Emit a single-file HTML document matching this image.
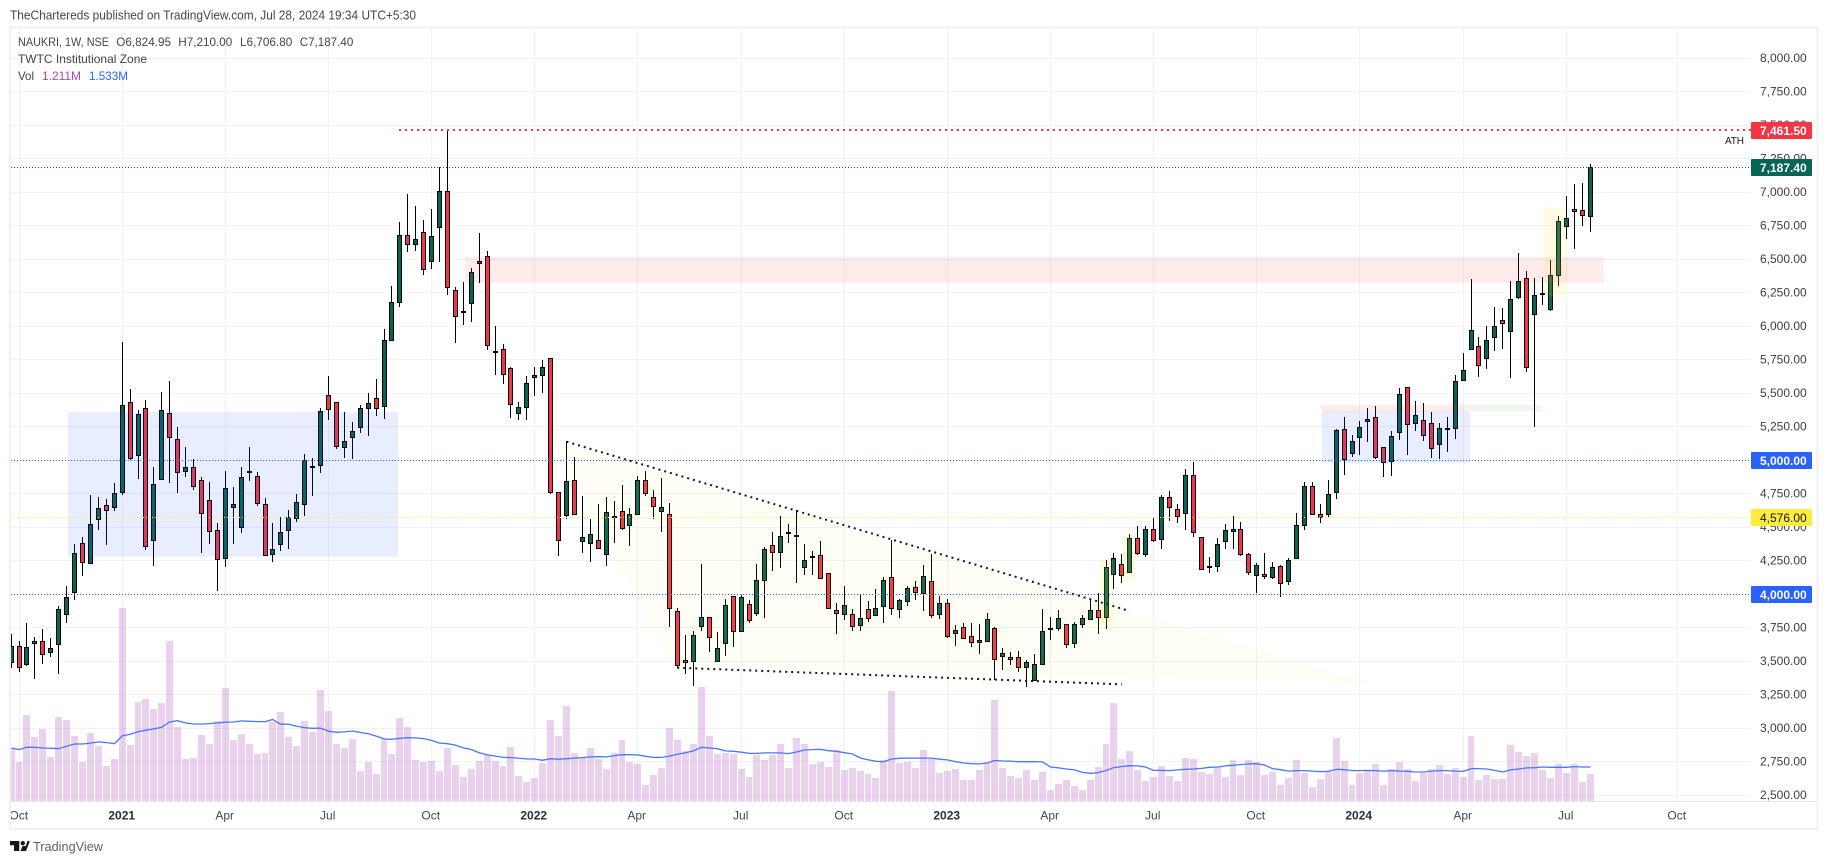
<!DOCTYPE html>
<html lang="en">
<head>
<meta charset="utf-8">
<title>NAUKRI 1W chart</title>
<style>
html,body{margin:0;padding:0;background:#fff;width:1827px;height:864px;overflow:hidden}
svg{display:block;font-family:"Liberation Sans",sans-serif}
</style>
</head>
<body>
<svg id="chart" width="1827" height="864" viewBox="0 0 1827 864" xmlns="http://www.w3.org/2000/svg">
  <rect x="0" y="0" width="1827" height="864" fill="#ffffff"/>
  <clipPath id="pane"><rect x="10.5" y="28" width="1740.5" height="773.5"/></clipPath>
  <g id="gridV"></g>
  <g id="gridH"></g>
  <g id="vol" clip-path="url(#pane)"></g>
  <path id="ma" fill="none" stroke="#4a77f7" stroke-width="1.3" clip-path="url(#pane)"/>
  <g id="candles" clip-path="url(#pane)"></g>
  <g id="zones"></g>
  <g id="hlines"></g>
  <g id="axisY"></g>
  <g id="axisX"></g>
  <rect x="10" y="27.5" width="1807.5" height="801.5" fill="none" stroke="#f0f0f6" stroke-width="2"/>

  <text x="10" y="19.3" font-size="12.5" fill="#434651" textLength="406" lengthAdjust="spacingAndGlyphs">TheChartereds published on TradingView.com, Jul 28, 2024 19:34 UTC+5:30</text>
  <text x="18" y="46" font-size="12" fill="#434651" textLength="91" lengthAdjust="spacingAndGlyphs">NAUKRI, 1W, NSE</text>
  <text x="116.3" y="46" font-size="12" fill="#434651" textLength="54.7" lengthAdjust="spacingAndGlyphs">O6,824.95</text>
  <text x="178.3" y="46" font-size="12" fill="#434651" textLength="54" lengthAdjust="spacingAndGlyphs">H7,210.00</text>
  <text x="240" y="46" font-size="12" fill="#434651" textLength="52.3" lengthAdjust="spacingAndGlyphs">L6,706.80</text>
  <text x="299.7" y="46" font-size="12" fill="#434651" textLength="53.6" lengthAdjust="spacingAndGlyphs">C7,187.40</text>
  <text x="18" y="63" font-size="12" fill="#434651" textLength="129" lengthAdjust="spacingAndGlyphs">TWTC Institutional Zone</text>
  <text x="18" y="80" font-size="12" fill="#434651" textLength="16" lengthAdjust="spacingAndGlyphs">Vol</text>
  <text x="42" y="80" font-size="12" fill="#ab47bc" textLength="39" lengthAdjust="spacingAndGlyphs">1.211M</text>
  <text x="89" y="80" font-size="12" fill="#2962ff" textLength="39" lengthAdjust="spacingAndGlyphs">1.533M</text>

  <g>
    <path d="M10 841H19.3V851H14V845.3H10Z M25 843.2A2.2 2.2 0 1 1 20.6 843.2A2.2 2.2 0 1 1 25 843.2Z M24 851L27.5 841H29.5V842L26 851Z M20.5 851L22.5 846H26L24 851Z" fill="#131722"/>
    <text x="33" y="851" font-size="13" fill="#5d606b" textLength="70" lengthAdjust="spacingAndGlyphs">TradingView</text>
  </g>
</svg>
<script>
const opens = [3493,3612,3478,3634,3649,3567,3627,3851,4019,4381,
4231,4560,4664,4649,4761,5433,5037,5388,4403,4863,
5351,5157,4918,4948,4851,4701,4478,4269,4649,4500,
4914,4881,4672,4298,4373,4478,4567,4672,4951,4963,
5485,5433,5097,5172,5246,5388,5463,5403,5895,6179,
6679,6612,6701,6485,6739,7007,6269,6108,6172,6470,
6522,5810,5828,5687,5351,5395,5619,5634,5761,4761,
4590,4851,4395,4381,4403,4298,4578,4619,4515,4597,
4851,4724,4619,4597,3873,3507,3500,3761,3828,3500,
3634,3985,3724,3925,3858,4104,4366,4313,4459,4437,
4201,4280,4291,4157,3881,3851,3851,3769,3888,3843,
3910,4127,3888,3948,4052,4007,4097,3851,3933,3709,
3754,3687,3642,3649,3746,3537,3530,3530,3455,3358,
3478,3743,3746,3776,3634,3776,3813,3881,3828,4149,
4224,4164,4418,4298,4485,4410,4724,4634,4604,4888,
4425,4205,4209,4395,4470,4485,4298,4142,4149,4127,
4209,4097,4269,4515,4806,4597,4597,4761,5231,5052,
5172,5291,5321,5097,4992,5209,5545,5276,5298,5276,
5119,5235,5239,5597,5828,5851,5761,5918,6045,5963,
6216,6358,6090,6243,6127,6381,6746,6873,6866,6824.95];

const highs = [3704,3651,3786,3681,3739,3674,3910,4062,4375,4425,
4741,4726,4711,4831,5883,5532,5373,5450,4950,5510,
5592,5248,5099,5007,4873,4838,4530,4918,4801,4948,
5099,4910,4716,4530,4575,4627,4746,5045,5015,5388,
5629,5433,5358,5284,5410,5500,5604,5978,6301,6778,
6987,6898,6793,6875,7187,7461,6291,6331,6433,6694,
6560,6000,5866,5694,5433,5627,5694,5746,5761,4761,
5142,5022,4731,4560,4672,4724,4694,4813,4642,4881,
4918,4776,4866,4679,3895,3694,3724,4224,3828,3716,
3963,3985,3992,3955,4224,4351,4463,4582,4522,4627,
4373,4321,4395,4157,3933,4060,3888,4000,3948,4037,
4127,4403,3963,4060,4097,4216,4298,3985,3963,3769,
3784,3784,3776,3858,3754,3601,3567,3575,3507,3552,
3888,3828,3881,3776,3791,3843,3963,4007,4254,4306,
4298,4448,4507,4507,4567,4739,4769,4672,4933,4985,
4425,4276,4418,4522,4582,4537,4306,4231,4306,4239,
4216,4269,4604,4836,4836,4672,4851,5231,5323,5187,
5291,5388,5403,5097,5216,5537,5545,5440,5425,5358,
5276,5321,5634,5798,6351,5918,6000,6142,6134,6336,
6545,6410,6358,6366,6493,6821,6970,7060,7067,7210];

const lows = [3452,3422,3467,3370,3482,3534,3407,3788,3960,4139,
4231,4482,4370,4624,4743,5000,4863,4333,4213,4855,
4833,4758,4878,4781,4310,4378,4027,4206,4378,4460,
4848,4661,4291,4243,4325,4340,4542,4584,4736,4907,
5303,5087,5019,5012,5206,5184,5333,5310,5895,6146,
6557,6564,6385,6430,6482,6231,5878,6012,6034,6325,
5825,5639,5572,5318,5301,5301,5482,5504,4746,4288,
4560,4590,4310,4243,4336,4213,4385,4478,4363,4597,
4736,4560,4467,3758,3448,3403,3318,3728,3567,3500,
3537,3609,3724,3784,3836,3825,4176,4199,4385,4086,
4146,4146,4112,3892,3701,3806,3728,3728,3796,3843,
3788,3848,3825,3915,3960,3878,3825,3818,3672,3616,
3672,3609,3557,3642,3358,3437,3475,3422,3310,3351,
3478,3661,3724,3601,3601,3751,3813,3706,3743,4042,
4086,4164,4291,4276,4388,4336,4545,4530,4478,4425,
4187,4157,4164,4336,4340,4284,4142,4012,4112,4112,
3978,4067,4261,4478,4590,4530,4575,4709,4888,5022,
5037,5134,5007,4873,4881,5149,5037,5216,5142,5015,
5007,5060,5157,5590,5828,5624,5684,5818,5833,5616,
6206,5661,5251,6157,6112,6298,6649,6575,6746,6706.8];

const closes = [3612,3455,3604,3649,3552,3597,3888,3978,4306,4239,
4522,4642,4627,4754,5410,5015,5343,4363,4821,5373,
5172,4910,4948,4806,4604,4470,4261,4791,4672,4873,
4918,4679,4291,4336,4463,4575,4687,5000,4955,5366,
5381,5104,5142,5216,5388,5425,5388,5895,6179,6679,
6612,6649,6425,6672,7007,6291,6075,6112,6403,6485,
5858,5813,5642,5418,5395,5575,5634,5694,4761,4403,
4843,4597,4425,4448,4343,4612,4582,4492,4597,4851,
4754,4657,4649,3895,3470,3493,3694,3828,3679,3597,
3918,3724,3978,3806,4104,4336,4313,4433,4463,4440,
4254,4284,4119,3900,3858,3918,3761,3821,3821,3895,
4104,3895,3955,4045,4015,4134,3843,3933,3687,3731,
3672,3642,3657,3813,3515,3560,3515,3455,3493,3478,
3724,3746,3821,3627,3776,3821,3881,3828,4201,4269,
4142,4418,4306,4485,4403,4724,4649,4582,4888,4463,
4187,4209,4373,4478,4485,4298,4164,4216,4134,4201,
4082,4254,4515,4806,4597,4575,4746,5224,5007,5142,
5246,5306,5022,4985,5179,5492,5269,5336,5187,5090,
5239,5239,5590,5672,5970,5709,5895,6000,6022,6201,
6336,5694,6231,6246,6381,6784,6806,6858,6828,7187.4];

const volumes = [2.38,1.76,3.84,2.86,3.21,1.96,3.75,3.62,2.90,1.76,
3.04,2.46,1.56,1.88,8.62,2.50,4.42,4.55,4.11,4.38,
7.14,3.30,1.88,1.92,2.95,2.54,3.57,5.04,2.72,2.99,
2.54,2.10,2.14,3.54,3.97,2.86,2.46,3.57,3.08,4.96,
4.02,2.54,2.37,2.77,1.34,1.74,1.21,2.77,2.10,3.71,
3.30,1.83,1.74,1.79,1.34,2.37,1.61,1.07,1.43,1.79,
2.05,1.79,1.56,2.41,1.12,0.85,1.03,1.70,3.62,2.90,
4.24,2.14,1.92,2.37,1.88,1.43,2.14,2.72,1.74,1.65,
0.71,1.16,1.47,3.26,2.72,2.23,2.54,5.09,2.90,2.10,
2.14,2.10,1.43,1.07,2.05,1.83,2.05,2.54,1.47,2.81,
2.54,1.65,1.74,1.52,2.28,1.38,1.47,1.34,1.21,1.03,
1.83,4.91,1.70,1.74,1.47,2.28,1.90,1.25,1.34,1.43,
0.94,0.94,1.38,1.74,4.51,1.47,1.12,1.03,1.38,0.94,
1.29,0.49,0.76,0.94,0.67,0.49,0.94,1.52,2.54,4.38,
1.88,2.23,1.38,0.89,1.07,1.56,1.12,0.89,1.92,1.88,
1.29,1.21,1.52,1.07,1.83,1.16,1.83,1.74,1.16,1.29,
0.71,1.03,1.83,1.25,0.62,0.98,1.29,2.81,1.79,0.71,
1.25,1.38,1.65,0.71,1.43,1.74,1.43,0.89,1.25,1.43,
1.61,1.21,1.47,1.07,2.90,0.94,1.16,0.98,0.98,2.50,
2.19,2.01,2.14,1.38,1.03,1.65,1.25,1.65,0.85,1.211];

const volumeMA = [2.37,2.31,2.41,2.41,2.38,2.37,2.35,2.46,2.56,2.56,
2.60,2.65,2.62,2.57,2.93,2.99,3.11,3.17,3.23,3.30,
3.54,3.60,3.50,3.45,3.45,3.47,3.50,3.53,3.54,3.59,
3.57,3.56,3.56,3.65,3.44,3.44,3.35,3.29,3.26,3.27,
3.13,3.08,3.10,3.14,3.07,3.02,2.90,2.78,2.77,2.81,
2.84,2.83,2.80,2.72,2.60,2.57,2.51,2.38,2.31,2.16,
2.07,2.02,1.96,1.95,1.93,1.89,1.89,1.83,1.90,1.88,
1.90,1.93,1.95,1.98,1.99,1.98,2.04,2.08,2.08,2.07,
2.01,1.96,1.96,2.02,2.10,2.17,2.25,2.41,2.38,2.35,
2.25,2.23,2.19,2.14,2.14,2.16,2.16,2.16,2.13,2.20,
2.29,2.31,2.32,2.26,2.23,2.17,2.11,1.93,1.85,1.79,
1.76,1.89,1.92,1.93,1.93,1.93,1.93,1.88,1.85,1.77,
1.71,1.68,1.67,1.71,1.82,1.80,1.79,1.77,1.77,1.77,
1.76,1.53,1.49,1.44,1.40,1.29,1.25,1.28,1.38,1.50,
1.55,1.59,1.58,1.53,1.38,1.38,1.37,1.40,1.43,1.44,
1.47,1.52,1.53,1.58,1.61,1.64,1.67,1.68,1.62,1.46,
1.41,1.35,1.37,1.37,1.35,1.32,1.34,1.43,1.41,1.37,
1.37,1.38,1.37,1.35,1.37,1.35,1.34,1.31,1.31,1.35,
1.37,1.37,1.35,1.34,1.46,1.46,1.44,1.38,1.31,1.40,
1.44,1.49,1.50,1.53,1.52,1.52,1.52,1.55,1.53,1.533];

const priceTicks = [8000,7750,7500,7250,7000,6750,6500,6250,6000,5750,5500,5250,4750,4500,4250,3750,3500,3250,3000,2750,2500];
const timeTickBars = [1,14,27,40,53,66,79,92,105,118,131,144,157,170,183,196,210];
const timeTickLabels = ["Oct","2021","Apr","Jul","Oct","2022","Apr","Jul","Oct","2023","Apr","Jul","Oct","2024","Apr","Jul","Oct"];
const yearLabels = ["2021","2022","2023","2024"];

const levelPrices = [5000,4000,4576,7187.4,7461.5];
const levelLabels = ["5,000.00","4,000.00","4,576.00","7,187.40","7,461.50"];
const levelNames = ["level-5000","level-4000","level-4576","last-price","all-time-high"];
const levelColors = ["#2962ff","#2962ff","#ffeb3b","#056656","#f23645"];
const levelTextColors = ["#ffffff","#ffffff","#131722","#ffffff","#ffffff"];
const levelStartBars = [-2,-2,-2,-2,48.85];

const zoneNames = ["consolidation-zone-left","supply-zone","consolidation-zone-right","pink-strip","green-strip","yellow-box-a","yellow-box-b","yellow-box-c"];
const zoneStartBars = [7.17,57.2,165.2,165.1,183,193.2,137.1,140];
const zoneEndBars = [48.76,200.7,183.9,183,192.8,195.9,138.9,141.7];
const zoneTopPrices = [5360,6517,5366,5413,5413,6888,4256,4448];
const zoneBottomPrices = [4280,6325,4982,5363,5363,6221,3771,4097];
const zoneFills = ["rgba(41,98,255,.11)","rgba(242,54,69,.1)","rgba(41,98,255,.11)","rgba(242,54,69,.1)","rgba(76,175,80,.1)","rgba(255,235,59,.14)","rgba(255,235,59,.14)","rgba(255,235,59,.14)"];

const wedgeBars = [68.3,171.5,83.3];
const wedgePrices = [5144,3338,3450];
const upperTrendBars = [70,140.98];
const upperTrendPrices = [5139,3875];
const lowerTrendBars = [83.96,139.97];
const lowerTrendPrices = [3452,3328];

const NS = 'http://www.w3.org/2000/svg';
const PANE_LEFT = 10.5, PANE_RIGHT = 1751, VOL_BASE = 801.3;
function xScale(bar){ return 11.1 + 7.9345 * bar; }
function barCol(bar){ return Math.floor(xScale(bar)); }
function yScale(price){ return 58.3 + (8000 - price) * 0.134; }
function volY(v){ return VOL_BASE - v * 22.4; }
function mk(tag, parent, attrs){
  const el = document.createElementNS(NS, tag);
  for (const k in attrs) el.setAttribute(k, attrs[k]);
  parent.appendChild(el);
  return el;
}

const gridV = document.getElementById('gridV');
timeTickBars.forEach(function(b){
  const c = barCol(b) + 0.5;
  const line = mk('line', gridV, {x1:c, x2:c, y1:28, y2:801, stroke:'#f0f1f5', 'stroke-width':1, 'shape-rendering':'crispEdges'});
  
  
});

const gridH = document.getElementById('gridH');
priceTicks.concat([5000,4000]).forEach(function(p){
  const y = Math.floor(yScale(p)) + 0.5;
  const line = mk('line', gridH, {x1:PANE_LEFT, x2:PANE_RIGHT, y1:y, y2:y, stroke:'#f0f1f5', 'stroke-width':1, 'shape-rendering':'crispEdges'});
  
  
});

const vol = document.getElementById('vol');
volumes.forEach(function(v, i){
  const c = barCol(i);
  const w = barCol(i + 1) - c - 1;
  const top = Math.round(volY(v));
  const bar = mk('rect', vol, {x:c - 3, y:top, width:w, height:801 - top, fill:'rgba(171,71,188,.25)', 'shape-rendering':'crispEdges'});
  
  
});

document.getElementById('ma').setAttribute('d', volumeMA.map(function(v, i){
  return (i ? 'L' : 'M') + (barCol(i) + 0.5) + ' ' + volY(v).toFixed(1);
}).join(''));

const candles = document.getElementById('candles');
opens.forEach(function(o, i){
  const c = barCol(i);
  const cl = closes[i];
  const up = cl >= o;
  const g = mk('g', candles, {'shape-rendering':'crispEdges'});
  
  
  const yH = Math.round(yScale(highs[i]));
  const yL = Math.round(yScale(lows[i]));
  mk('rect', g, {x:c, y:yH, width:1, height:Math.max(1, yL - yH), fill:'#000'});
  const top = Math.round(yScale(Math.max(o, cl)));
  const bot = Math.round(yScale(Math.min(o, cl)));
  if (bot - top < 1) {
    mk('rect', g, {x:c - 2, y:top, width:5, height:1, fill:'#000'});
  } else {
    mk('rect', g, {x:c - 2, y:top, width:5, height:bot - top + 1, fill:'#000'});
    if (bot - top > 1) {
      mk('rect', g, {x:c - 1, y:top + 1, width:3, height:bot - top - 1, fill:up ? '#056656' : '#f23645'});
    }
  }
});

const zones = document.getElementById('zones');
const wedge = mk('polygon', zones, {points:wedgeBars.map(function(b, i){ return xScale(b).toFixed(1) + ',' + yScale(wedgePrices[i]).toFixed(1); }).join(' '), fill:'rgba(255,235,59,.055)'});


zoneNames.forEach(function(name, i){
  const x = xScale(zoneStartBars[i]);
  const y = yScale(zoneTopPrices[i]);
  const r = mk('rect', zones, {x:x, y:y, width:xScale(zoneEndBars[i]) - x, height:yScale(zoneBottomPrices[i]) - y, fill:zoneFills[i]});
  
  
});
const upper = mk('line', zones, {x1:xScale(upperTrendBars[0]), y1:yScale(upperTrendPrices[0]), x2:xScale(upperTrendBars[1]), y2:yScale(upperTrendPrices[1]), stroke:'#131722', 'stroke-width':2, 'stroke-dasharray':'2 4'});


const lower = mk('line', zones, {x1:xScale(lowerTrendBars[0]), y1:yScale(lowerTrendPrices[0]), x2:xScale(lowerTrendBars[1]), y2:yScale(lowerTrendPrices[1]), stroke:'#131722', 'stroke-width':2, 'stroke-dasharray':'2 4'});



const hlines = document.getElementById('hlines');
levelPrices.forEach(function(p, i){
  const wide = levelNames[i] === 'all-time-high';
  const y = wide ? Math.round(yScale(p)) : Math.floor(yScale(p)) + 0.5;
  const x1 = Math.ceil(Math.max(PANE_LEFT, xScale(levelStartBars[i])));
  const line = mk('line', hlines, {x1:x1, x2:PANE_RIGHT, y1:y, y2:y, stroke:levelColors[i], 'stroke-width':wide ? 2 : 1, 'stroke-dasharray':wide ? '2 4' : '1 2', 'shape-rendering':'crispEdges'});
  
  
});
const ath = mk('text', hlines, {x:1725, y:144, 'font-size':10, fill:'#131722', textLength:19});


ath.textContent = 'ATH';

const axisY = document.getElementById('axisY');
priceTicks.forEach(function(p){
  const t = mk('text', axisY, {x:1806.7, y:yScale(p) + 3.8, 'font-size':12, fill:'#3a3e49', 'text-anchor':'end'});
  
  
  t.textContent = p.toLocaleString('en-US', {minimumFractionDigits:2, maximumFractionDigits:2});
});
levelPrices.forEach(function(p, i){
  const y = yScale(p);
  const tag = mk('rect', axisY, {x:1751, y:Math.round(y - 8), width:61, height:17, fill:levelColors[i], rx:1});
  
  
  const t = mk('text', axisY, {x:1806.7, y:Math.round(y - 8) + 13, 'font-size':12, 'font-weight':levelTextColors[i] === '#ffffff' ? 700 : 400, fill:levelTextColors[i], 'text-anchor':'end'});
  
  
  t.textContent = levelLabels[i];
});

const axisX = document.getElementById('axisX');
const axisLine = mk('line', axisX, {x1:10, x2:1817, y1:801.5, y2:801.5, stroke:'#e0e3eb', 'stroke-width':1, 'shape-rendering':'crispEdges'});


timeTickBars.forEach(function(b, i){
  const isYear = yearLabels.indexOf(timeTickLabels[i]) >= 0;
  const t = mk('text', axisX, {x:barCol(b) - 0.3, y:819.5, 'font-size':12, 'font-weight':isYear ? 700 : 400, fill:isYear ? '#2a2e39' : '#434651', 'text-anchor':'middle'});
  
  
  t.textContent = timeTickLabels[i];
});
</script>
</body>
</html>
